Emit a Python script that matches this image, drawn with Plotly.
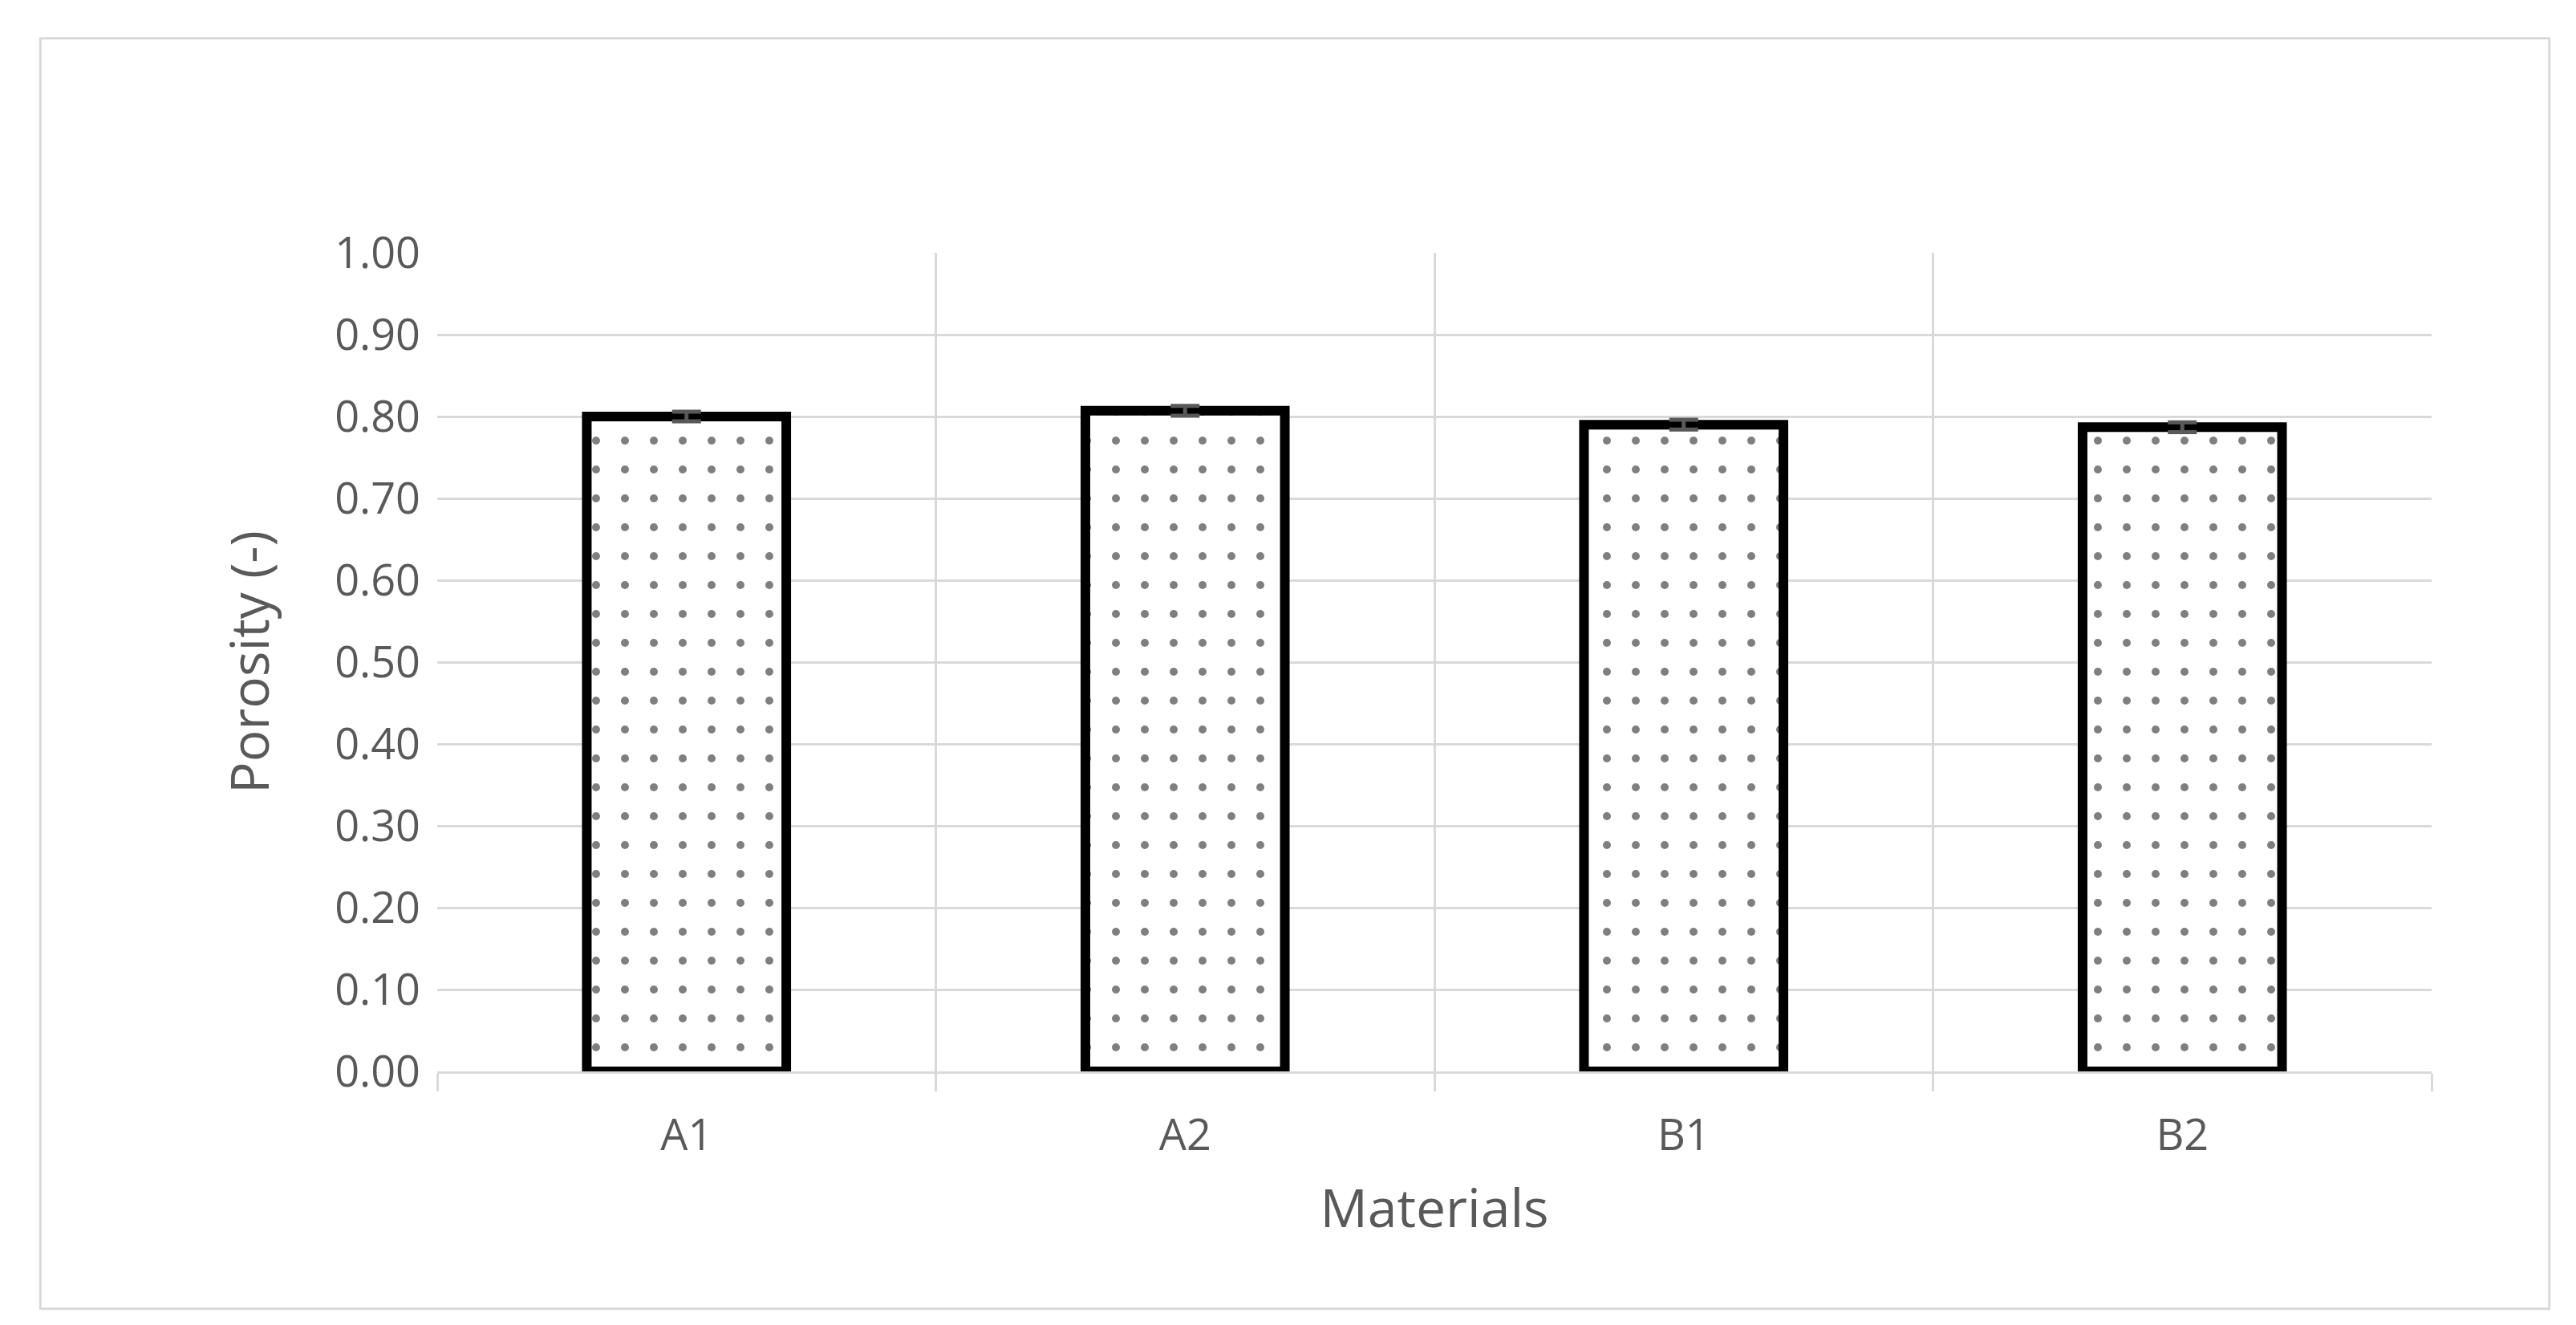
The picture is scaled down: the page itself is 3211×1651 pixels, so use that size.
import plotly.graph_objects as go

materials = ["A1", "A2", "B1", "B2"]
porosity = [0.800, 0.807, 0.790, 0.787]
porosity_err = [0.006, 0.006, 0.006, 0.006]
y_ticks = [0, 0.1, 0.2, 0.3, 0.4, 0.5, 0.6, 0.7, 0.8, 0.9, 1.0]

grid = "#d9d9d9"
text_col = "#595959"

fig = go.Figure()
fig.add_trace(go.Bar(
    x=list(range(len(materials))),
    y=porosity,
    width=0.4,
    marker=dict(
        color="white",
        line=dict(color="black", width=12),
        pattern=dict(shape=".", size=36, solidity=0.06, fgcolor="black", bgcolor="white"),
    ),
    error_y=dict(type="data", array=porosity_err, color="#595959", thickness=5, width=18),
))

fig.update_layout(
    width=3211, height=1651,
    paper_bgcolor="white", plot_bgcolor="white",
    margin=dict(l=537, r=188, t=307, b=324),
    font=dict(family="Open Sans", color=text_col, size=54),
    showlegend=False,
    shapes=[dict(type="rect", xref="paper", yref="paper",
                 x0=-0.199, x1=1.059, y0=-0.29, y1=1.262,
                 line=dict(color=grid, width=3))],
)
fig.update_xaxes(
    range=[-0.5, 3.5], tickvals=list(range(len(materials))), ticktext=materials,
    showgrid=False, zeroline=False, showline=True, linecolor=grid, linewidth=3,
    ticks="", ticklabelstandoff=30,
    minor=dict(tick0=-0.5, dtick=1, showgrid=True, gridcolor=grid, gridwidth=3,
               ticks="outside", ticklen=22, tickcolor=grid, tickwidth=3),
    title=dict(text="Materials", font=dict(size=66), standoff=36),
)
fig.update_yaxes(
    range=[0, 1.0], tickvals=y_ticks, tickformat=".2f",
    showgrid=True, gridcolor=grid, gridwidth=3, zeroline=False,
    ticks="", ticklabelstandoff=20,
    title=dict(text="Porosity (-)", font=dict(size=66), standoff=60),
)

fig.write_html("out.html")
